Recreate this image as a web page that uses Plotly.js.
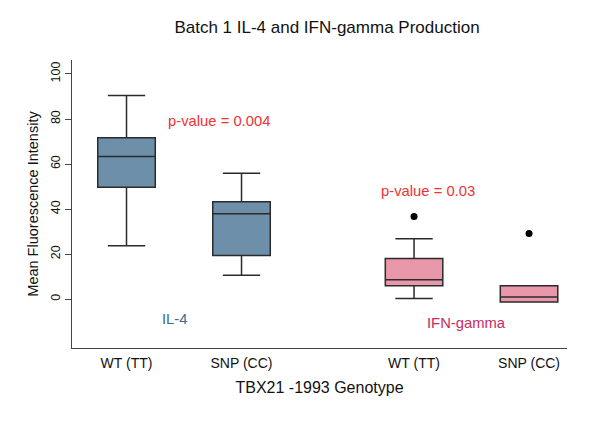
<!DOCTYPE html>
<html>
<head>
<meta charset="utf-8">
<script src="https://cdn.plot.ly/plotly-3.0.1.min.js"></script>
<style>html,body{margin:0;padding:0;background:#fff;}#chart{width:600px;height:434px;}</style>
</head>
<body>
<div id="chart"></div>
<script>
// Category positions and labels
const positions = [1, 2, 3.5, 4.5];
const tickLabels = ["WT (TT)", "SNP (CC)", "WT (TT)", "SNP (CC)"];

// IL-4 box stats (WT, SNP)
const il4X = [1, 2];
const il4Lower = [23.7, 10.6];
const il4Q1 = [49.7, 19.4];
const il4Median = [63.3, 37.9];
const il4Q3 = [71.7, 43.3];
const il4Upper = [90.4, 55.9];

// IFN-gamma box stats (WT, SNP)
const ifnX = [3.5, 4.5];
const ifnLower = [0.3, -1.3];
const ifnQ1 = [6.0, -1.3];
const ifnMedian = [8.6, 1.0];
const ifnQ3 = [18.0, 5.9];
const ifnUpper = [26.8, 5.9];

// Outliers
const outX = [3.5, 4.5];
const outY = [36.7, 29.1];

const boxLine = {color: "#2b2b2b", width: 1.5};

const traces = [
  {
    type: "box", x: il4X, q1: il4Q1, median: il4Median, q3: il4Q3,
    lowerfence: il4Lower, upperfence: il4Upper,
    fillcolor: "#6e8fa9", line: boxLine, width: 0.5, whiskerwidth: 0.65,
    boxpoints: false, hoverinfo: "skip", showlegend: false
  },
  {
    type: "box", x: ifnX, q1: ifnQ1, median: ifnMedian, q3: ifnQ3,
    lowerfence: ifnLower, upperfence: ifnUpper,
    fillcolor: "#e997aa", line: boxLine, width: 0.5, whiskerwidth: 0.65,
    boxpoints: false, hoverinfo: "skip", showlegend: false
  },
  {
    type: "scatter", mode: "markers", x: outX, y: outY,
    marker: {color: "#000", size: 7}, showlegend: false, hoverinfo: "skip"
  }
];

const font = "Liberation Sans, Arial, Helvetica, sans-serif";

const layout = {
  width: 600, height: 434,
  margin: {l: 72, r: 33, t: 60, b: 86},
  paper_bgcolor: "#fff", plot_bgcolor: "#fff",
  font: {family: font, color: "#111", size: 12},
  title: {text: "Batch 1 IL-4 and IFN-gamma Production", x: 0.545, xanchor: "center", y: 0.938, yanchor: "middle", font: {size: 17, color: "#111", family: font}},
  xaxis: {
    range: [0.526, 4.83], showgrid: false, zeroline: false,
    showline: true, linecolor: "#444", linewidth: 1.2,
    tickmode: "array", tickvals: positions, ticktext: tickLabels,
    ticks: "", ticklabelstandoff: 2, tickfont: {size: 14, color: "#111"},
    title: {text: "TBX21 -1993 Genotype", font: {size: 16, color: "#111"}, standoff: 11}
  },
  yaxis: {
    range: [-21.7, 106.2], showgrid: false, zeroline: false,
    showline: true, linecolor: "#444", linewidth: 1.2,
    tickmode: "array", tickvals: [0, 20, 40, 60, 80, 100],
    ticks: "outside", ticklen: 6, tickcolor: "#444", tickangle: -90,
    tickfont: {size: 12.5, color: "#111"},
    title: {text: "Mean Fluorescence Intensity", font: {size: 14.5, color: "#111"}, standoff: 6}
  },
  annotations: [
    {x: 1.80, y: 79.1, xref: "x", yref: "y", text: "p-value = 0.004", showarrow: false, font: {size: 14.8, color: "#f03232"}},
    {x: 3.62, y: 48.1, xref: "x", yref: "y", text: "p-value = 0.03", showarrow: false, font: {size: 14.8, color: "#f03232"}},
    {x: 1.42, y: -8.7, xref: "x", yref: "y", text: "IL-4", showarrow: false, font: {size: 14.8, color: "#3d6a8e"}},
    {x: 3.96, y: -10.5, xref: "x", yref: "y", text: "IFN-gamma", showarrow: false, font: {size: 14.8, color: "#cc2a5c"}}
  ]
};

Plotly.newPlot("chart", traces, layout, {displayModeBar: false, staticPlot: true});
</script>
</body>
</html>
